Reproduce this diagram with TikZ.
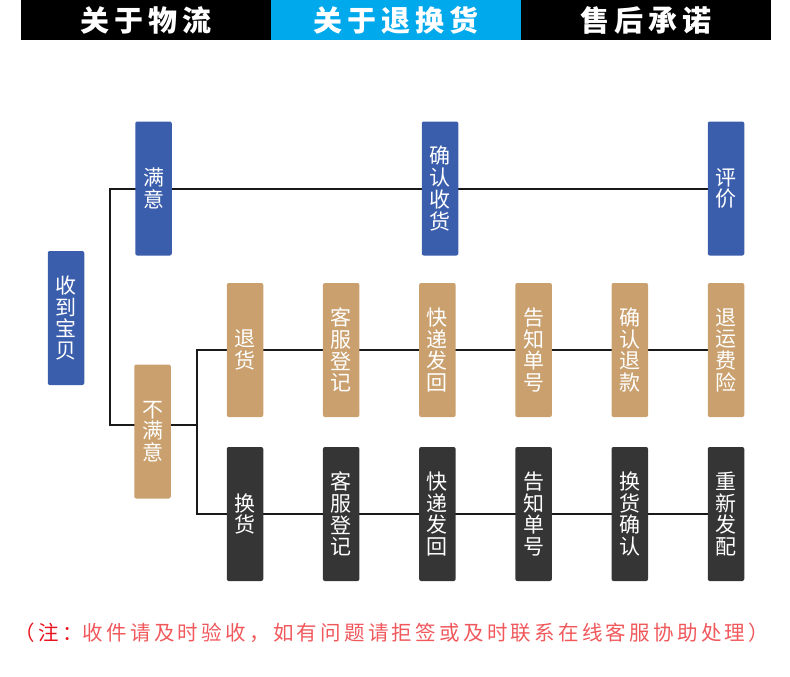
\documentclass[tikz,border=0pt]{standalone}
\usepackage{fontspec}
\newfontfamily\cjk{Noto Sans CJK SC}
\usetikzlibrary{backgrounds}
\definecolor{navblue}{HTML}{00A8EC}
\definecolor{okblue}{HTML}{3B5EAC}
\definecolor{backtan}{HTML}{C9A06E}
\definecolor{swapgray}{HTML}{353535}
\definecolor{notered}{HTML}{E8141E}
\definecolor{notepink}{HTML}{F0585C}
\begin{document}
\begin{tikzpicture}[x=1pt, y=-1pt, every node/.style={font=\cjk},
  stepbox/.style={rounded corners=2pt, minimum width=36.5pt, minimum height=134pt, inner sep=0pt,
    align=center, text=white, font=\cjk\fontsize{21}{21.7}\selectfont},
  tabtext/.style={text=white, font=\cjk\bfseries\fontsize{29}{29}\selectfont\addfontfeature{LetterSpace=17}},
  link/.style={line width=2pt, black!90}]
\useasboundingbox (0,0) rectangle (790,677);
% top tabs
\fill[black] (21,0) rectangle (771,40);
\fill[navblue] (271,0) rectangle (521,40);
\node[tabtext] (tabship) at (146,20) {关于物流};
\node[tabtext] (tabret) at (396,20) {关于退换货};
\node[tabtext] (tabpromise) at (646,20) {售后承诺};
% first column
\node[stepbox, fill=okblue] (got) at (66,318) {收\\到\\宝\\贝};
\node[stepbox, fill=okblue] (ok) at (153.5,188.5) {满\\意};
\node[stepbox, fill=backtan] (notok) at (152.5,431.5) {不\\满\\意};
\node[stepbox, fill=okblue] (confirm) at (440,188.5) {确\\认\\收\\货};
\node[stepbox, fill=okblue] (rate) at (726,188.5) {评\\价};
% return row and exchange row
\foreach \txt [count=\i] in {{退\\货},{客\\服\\登\\记},{快\\递\\发\\回},{告\\知\\单\\号},{确\\认\\退\\款},{退\\运\\费\\险}}
  \node[stepbox, fill=backtan] (ret\i) at ({245+96.2*(\i-1)},350) {\txt};
\foreach \txt [count=\i] in {{换\\货},{客\\服\\登\\记},{快\\递\\发\\回},{告\\知\\单\\号},{换\\货\\确\\认},{重\\新\\发\\配}}
  \node[stepbox, fill=swapgray] (swap\i) at ({245+96.2*(\i-1)},514) {\txt};
\coordinate (trunk) at (110,425);
\coordinate (fork) at (197,425);
\begin{scope}[on background layer]
\draw[link] (ok.center) -- (rate.center);
\draw[link] (ok.center) -| (trunk) -- (fork);
\draw[link] (ret1.center) -| (fork) |- (swap1.center);
\draw[link] (ret1.center) -- (ret6.center);
\draw[link] (swap1.center) -- (swap6.center);
\end{scope}
% note
\node[font=\cjk\fontsize{20.5}{20.5}\selectfont\addfontfeature{LetterSpace=16}] (note) at (392,633)
  {\textcolor{notered}{（注：}\textcolor{notepink}{收件请及时验收，如有问题请拒签或及时联系在线客服协助处理）}};
\end{tikzpicture}
\end{document}
